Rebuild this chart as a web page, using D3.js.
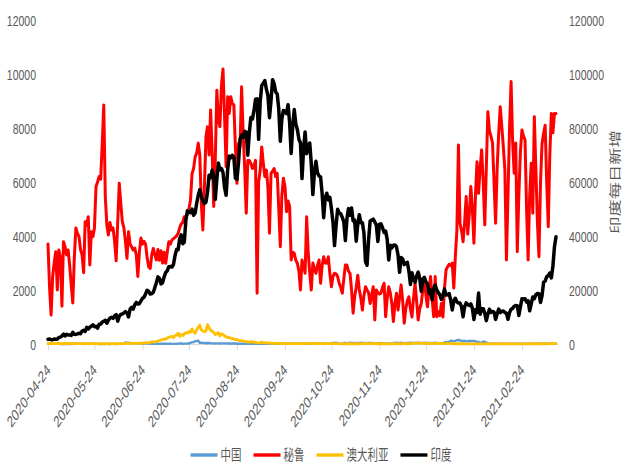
<!DOCTYPE html>
<html>
<head>
<meta charset="utf-8">
<script src="https://cdn.jsdelivr.net/npm/d3@7/dist/d3.min.js"></script>
<style>
  body { margin: 0; background: #fff; }
  svg text { font-family: "Liberation Sans", Arial, sans-serif; fill: #595959; }
</style>
</head>
<body>
<div id="chart"></div>
<script>
const width = 623;
const height = 466;
const stretch = 1.44; // the picture is drawn taller than wide, text looks stretched

const startDate = "2020-04-24";
const endDate = "2021-03-18";
const tickLabels = ["2020-04-24", "2020-05-24", "2020-06-24", "2020-07-24", "2020-08-24", "2020-09-24",
  "2020-10-24", "2020-11-24", "2020-12-24", "2021-01-24", "2021-02-24"];
const leftTicks = [0, 2000, 4000, 6000, 8000, 10000, 12000];
const rightTicks = [0, 20000, 40000, 60000, 80000, 100000, 120000];
const seriesNames = ["中国", "秘鲁", "澳大利亚", "印度"];
const seriesColors = ["#5b9bd5", "#ff0000", "#ffc000", "#000000"];
const rightTitle = "印度每日新增";

// daily new cases, one line per month (Apr 24 .. Mar 18)
const china = [].concat(
  [10, 12, 11, 5, 6, 22, 4],
  [12, 2, 3, 1, 2, 2, 4, 1, 14, 1, 17, 7, 15, 4, 7, 10, 7, 6, 5, 2, 4, 3, 3, 11, 7, 5, 1, 2, 4, 2, 5],
  [16, 5, 1, 5, 8, 5, 4, 3, 3, 3, 1, 11, 57, 49, 40, 44, 28, 32, 32, 26, 22, 18, 12, 19, 11, 17, 21, 12, 19, 3],
  [4, 5, 3, 7, 5, 8, 8, 7, 8, 8, 7, 8, 3, 6, 6, 11, 13, 19, 22, 11, 14, 15, 22, 21, 46, 61, 68, 101, 105, 127, 45],
  [49, 43, 36, 27, 38, 37, 32, 23, 19, 22, 25, 23, 19, 23, 22, 22, 22, 18, 22, 14, 21, 16, 20, 11, 15, 9, 14, 9, 12, 6, 10],
  [12, 9, 10, 10, 10, 10, 10, 10, 10, 10, 8, 8, 10, 10, 10, 15, 15, 25, 15, 20, 20, 15, 10, 10, 10, 10, 10, 10, 10, 5],
  [15, 10, 10, 10, 20, 10, 5, 10, 10, 15, 15, 20, 15, 20, 15, 20, 15, 15, 20, 15, 20, 20, 25, 20, 40, 35, 45, 30, 30, 25, 25],
  [35, 40, 30, 35, 45, 40, 35, 40, 30, 35, 40, 45, 35, 40, 30, 35, 40, 35, 30, 35, 30, 25, 30, 35, 25, 30, 20, 25, 30, 25],
  [25, 30, 35, 40, 45, 35, 40, 45, 35, 30, 40, 35, 40, 45, 35, 40, 35, 40, 45, 40, 35, 40, 45, 40, 35, 40, 35, 30, 40, 45, 40],
  [30, 30, 30, 30, 60, 70, 70, 80, 120, 110, 100, 120, 140, 150, 140, 110, 110, 120, 100, 100, 120, 110, 110, 110, 100, 80, 75, 50, 55, 90, 80],
  [50, 30, 20, 15, 15, 10, 10, 10, 10, 10, 15, 10, 10, 10, 10, 10, 10, 10, 10, 10, 10, 10, 10, 10, 10, 10, 10, 10],
  [10, 10, 10, 10, 10, 10, 10, 10, 10, 10, 10, 10, 10, 10, 10, 10, 10, 10]
);

const peru = [].concat(
  [3700, 2100, 1070, 2500, 3000, 3420, 2000],
  [3480, 3200, 1400, 3790, 3600, 3300, 3480, 2900, 2200, 1520, 3200, 4300, 4100, 3975, 3500, 3300, 2640, 4530, 4400, 4715, 2925, 4160, 3975, 4300, 5830, 6000, 6200, 6100, 7400, 8850, 5460],
  [4400, 4040, 4500, 4220, 4300, 3800, 3080, 4500, 5950, 5200, 4530, 4300, 3800, 3170, 4160, 3700, 3600, 3480, 3550, 3300, 2500, 3400, 3925, 3700, 3800, 3700, 3200, 2860, 2800, 3300],
  [3540, 3300, 3110, 3500, 3100, 3450, 3000, 3400, 2990, 3400, 3790, 3700, 3850, 3900, 3950, 4000, 4100, 4300, 4450, 4500, 4715, 4700, 4800, 5000, 5330, 6300, 6500, 6930, 7070, 7440, 7000],
  [5200, 4220, 5830, 7680, 8050, 7000, 8670, 7070, 5090, 6800, 9400, 8300, 8050, 9590, 10185, 8420, 6570, 9160, 8540, 9160, 8900, 8860, 7300, 5950, 7430, 7300, 9530, 7800, 6500, 4840, 6800],
  [6800, 6690, 6500, 6600, 6800, 1880, 6000, 6440, 7300, 6700, 6200, 6440, 5800, 4100, 6320, 6400, 6500, 6200, 6320, 5000, 3600, 5500, 6140, 5830, 4900, 5300, 5100, 3110, 3400, 3360],
  [3100, 2990, 2700, 2000, 3110, 2900, 2620, 4715, 3400, 2620, 2000, 3000, 2800, 2620, 2900, 3110, 2250, 2900, 3230, 3000, 2990, 3230, 2600, 2120, 2500, 2620, 2600, 2500, 2250, 2100, 1880],
  [2400, 2925, 2925, 2700, 2620, 2000, 1140, 1750, 2100, 2550, 2000, 1700, 1260, 1800, 2120, 2000, 1900, 1500, 1800, 2120, 890, 2000, 1900, 1850, 1880, 2100, 2250, 1010, 1700, 2120],
  [1900, 1500, 830, 1500, 1880, 1260, 1700, 2190, 1600, 770, 1300, 1600, 1750, 1300, 1000, 1700, 2250, 1600, 890, 1300, 1500, 2000, 2370, 1800, 1380, 2000, 2500, 1700, 1010, 2500, 1010],
  [1200, 1050, 1500, 1000, 2060, 2740, 2860, 2950, 2900, 3000, 2070, 3230, 4200, 7370, 4470, 4200, 3790, 4500, 5460, 4070, 4800, 5830, 5000, 3730, 5500, 6750, 5580, 6500, 7190, 6000, 4410],
  [6500, 8600, 7900, 7700, 7450, 6000, 4470, 6500, 7800, 8790, 8050, 7300, 6440, 3110, 5500, 8000, 9720, 7500, 6320, 7440, 3420, 5500, 7100, 7930, 7700, 7560, 5000, 3110],
  [5500, 6690, 4840, 8420, 6500, 4500, 3230, 6000, 7430, 7800, 8100, 6000, 4340, 7000, 8540, 7820, 8540, 8540]
);

const australia = [].concat(
  [15, 20, 12, 10, 15, 20, 18],
  [15, 10, 10, 12, 18, 20, 15, 25, 20, 15, 10, 12, 15, 12, 18, 10, 8, 10, 20, 15, 20, 12, 10, 12, 15, 10, 8, 12, 15, 10, 12],
  [10, 12, 8, 15, 10, 12, 8, 10, 12, 15, 10, 15, 20, 18, 20, 25, 20, 20, 25, 30, 25, 20, 30, 40, 35, 50, 45, 50, 60, 75],
  [80, 70, 95, 110, 130, 150, 160, 190, 180, 220, 250, 270, 280, 230, 310, 330, 400, 280, 350, 310, 380, 420, 400, 460, 430, 560, 450, 400, 530, 620, 700],
  [520, 480, 450, 480, 720, 600, 500, 480, 420, 350, 380, 420, 300, 380, 350, 300, 260, 250, 240, 220, 200, 180, 160, 170, 140, 120, 130, 110, 100, 90, 80],
  [70, 80, 90, 60, 60, 50, 45, 40, 70, 50, 45, 50, 40, 35, 30, 25, 30, 25, 20, 20, 15, 15, 20, 15, 15, 10, 10, 15, 20, 15],
  [15, 20, 15, 10, 10, 15, 15, 20, 20, 15, 20, 10, 15, 10, 15, 20, 15, 10, 10, 12, 15, 20, 15, 10, 15, 12, 10, 15, 12, 10, 10],
  [10, 8, 10, 12, 10, 12, 10, 8, 10, 12, 10, 10, 12, 15, 10, 20, 15, 15, 12, 20, 15, 10, 12, 10, 10, 12, 10, 8, 10, 12],
  [10, 12, 10, 15, 10, 8, 10, 12, 10, 15, 10, 12, 10, 12, 15, 20, 30, 35, 40, 30, 25, 20, 30, 20, 15, 15, 20, 15, 20, 25, 20],
  [25, 30, 20, 15, 10, 15, 20, 20, 15, 12, 10, 8, 10, 12, 10, 8, 10, 5, 8, 10, 8, 5, 8, 10, 5, 8, 5, 10, 8, 5, 8],
  [8, 10, 5, 8, 10, 12, 10, 8, 10, 12, 8, 10, 12, 10, 8, 5, 8, 5, 8, 5, 10, 8, 5, 8, 10, 8, 10, 8],
  [8, 10, 12, 8, 10, 12, 10, 8, 10, 12, 10, 8, 10, 15, 12, 10, 12, 15]
);

const india = [].concat(
  [1752, 1835, 1607, 1561, 1873, 1738, 1801],
  [2396, 2564, 2952, 3656, 2971, 3602, 3344, 3339, 3175, 4311, 3592, 3562, 3726, 3991, 3808, 4794, 5050, 4628, 6147, 5553, 6198, 6629, 7113, 6414, 6535, 5843, 7293, 7300, 8105, 8380, 8789],
  [7723, 8821, 9633, 9889, 9471, 10438, 10864, 8442, 10218, 10956, 11121, 11458, 12023, 11502, 10032, 12881, 13586, 12881, 14516, 15413, 14821, 14933, 15968, 16922, 17296, 18552, 19906, 19459, 18522, 18653],
  [19148, 20903, 22771, 24850, 24248, 22252, 22752, 24879, 26506, 27114, 28637, 28701, 28498, 29429, 32695, 34956, 34884, 38902, 40425, 37148, 37724, 45720, 49310, 48916, 48661, 49931, 47704, 48513, 52123, 55079, 57118],
  [54735, 52972, 52050, 52509, 56282, 62538, 61537, 64399, 62064, 53601, 60963, 66999, 64553, 65002, 63490, 57981, 55079, 64531, 69652, 68898, 69878, 69239, 61408, 60975, 67151, 75760, 77266, 76472, 78761, 78512, 69921],
  [78357, 83883, 83341, 86432, 90632, 90802, 75809, 89706, 95735, 96551, 97570, 94372, 92071, 83809, 90123, 97894, 96424, 93337, 92605, 86961, 75083, 83347, 86508, 86052, 85362, 88600, 82170, 70589, 80472, 86821],
  [81484, 79476, 75829, 74442, 61267, 72049, 78524, 70496, 73272, 74383, 66732, 55342, 63509, 67708, 63371, 62212, 61871, 55722, 46790, 54044, 55839, 53370, 54366, 50129, 45148, 36469, 43893, 49881, 48648, 48268, 46963],
  [45231, 38310, 46253, 50209, 47638, 50357, 45674, 45903, 38073, 44281, 47905, 44879, 44878, 41100, 30548, 29163, 38617, 45576, 45882, 46232, 45209, 44059, 37975, 44376, 44489, 43082, 41322, 41810, 38772, 31118],
  [36604, 35551, 36595, 36652, 36011, 32981, 26567, 32080, 31522, 29398, 30006, 30254, 27071, 22065, 26382, 24010, 22890, 25153, 26624, 24337, 19556, 23950, 24712, 23067, 22273, 18732, 20021, 16432, 20549, 21822, 20035],
  [19078, 18177, 16505, 18088, 20346, 18139, 18222, 18645, 16311, 12584, 15968, 16946, 15590, 15158, 15144, 13788, 10064, 13823, 15223, 14545, 14256, 14849, 13203, 9102, 12689, 11666, 18855, 11039, 13052, 13083, 11427],
  [8635, 11039, 12899, 11713, 12059, 11831, 9110, 11067, 12923, 11610, 12143, 12194, 11649, 11427, 9121, 11610, 12881, 13193, 13993, 14264, 14199, 10584, 13742, 16738, 16577, 16752, 15510, 16000],
  [12300, 14900, 17400, 16800, 18300, 18700, 18600, 15400, 17900, 22900, 23300, 24900, 25300, 26300, 24500, 28900, 35900, 39700]
);

const parseDate = d3.timeParse("%Y-%m-%d");
const formatDate = d3.timeFormat("%Y-%m-%d");
const dates = d3.timeDay.range(parseDate(startDate), d3.timeDay.offset(parseDate(endDate), 1));

const margin = {top: 20, right: 65, bottom: 122, left: 48};
const plotBottom = height - margin.bottom;

const svg = d3.select("#chart")
  .append("svg")
  .attr("width", width)
  .attr("height", height);

svg.append("rect").attr("width", width).attr("height", height).attr("fill", "#fff");

const x = d3.scaleTime()
  .domain([dates[0], dates[dates.length - 1]])
  .range([margin.left, 556]);

const yLeft = d3.scaleLinear()
  .domain([0, 12000])
  .range([plotBottom, margin.top]);

const yRight = d3.scaleLinear()
  .domain([0, 120000])
  .range([plotBottom, margin.top]);

// X axis
const xAxis = svg.append("g")
  .attr("transform", "translate(0," + plotBottom + ")")
  .call(d3.axisBottom(x)
    .tickValues(tickLabels.map(parseDate))
    .tickFormat(formatDate)
    .tickSizeOuter(0)
    .tickSize(6));
xAxis.select(".domain").attr("stroke", "#d9d9d9").attr("d", "M" + margin.left + ",0.5H558");
xAxis.selectAll(".tick line").attr("stroke", "#d9d9d9");
xAxis.selectAll(".tick text")
  .attr("x", 0).attr("y", 0).attr("dy", "0.35em")
  .attr("transform", "translate(0,23) scale(1," + stretch + ") rotate(-45)")
  .style("text-anchor", "end")
  .style("font-size", "11px");

// left axis
const leftAxis = svg.append("g")
  .attr("transform", "translate(" + margin.left + ",0)")
  .call(d3.axisLeft(yLeft).tickValues(leftTicks).tickFormat(d3.format("d")).tickSize(0).tickPadding(12));
leftAxis.select(".domain").remove();
leftAxis.selectAll(".tick text")
  .attr("dy", "0.36em")
  .attr("transform", "scale(1," + stretch + ")")
  .style("font-size", "10.5px");

// right axis
const rightAxis = svg.append("g")
  .attr("transform", "translate(558,0)")
  .call(d3.axisRight(yRight).tickValues(rightTicks).tickFormat(d3.format("d")).tickSize(0).tickPadding(11));
rightAxis.select(".domain").remove();
rightAxis.selectAll(".tick text")
  .attr("dy", "0.36em")
  .attr("transform", "scale(1," + stretch + ")")
  .style("font-size", "10.5px");

// right axis title, kept just inside the right edge
svg.append("text")
  .attr("transform", "translate(619.5," + ((margin.top + plotBottom) / 2) + ") scale(1," + stretch + ") rotate(-90)")
  .attr("text-anchor", "middle")
  .style("font-family", "'Noto Sans CJK SC', sans-serif")
  .style("font-size", "12px")
  .text(rightTitle);

// lines
const series = [china, peru, australia, india];
const scales = [yLeft, yLeft, yLeft, yRight];
const widths = [2.4, 3, 2.8, 3.5];

series.forEach(function(values, k) {
  const y = scales[k];
  const line = d3.line()
    .x(function(d, i) { return x(dates[i]); })
    .y(function(d) { return y(d); });
  svg.append("path")
    .datum(values.slice(0, dates.length))
    .attr("fill", "none")
    .attr("stroke", seriesColors[k])
    .attr("stroke-width", widths[k])
    .attr("stroke-linejoin", "round")
    .attr("stroke-linecap", "round")
    .attr("d", line);
});

// legend
const legend = svg.append("g").attr("transform", "translate(0,455)");
let lx = 0;
const items = [];
seriesNames.forEach(function(name, k) {
  const g = legend.append("g");
  g.append("line")
    .attr("x1", 0).attr("x2", 27)
    .attr("stroke", seriesColors[k])
    .attr("stroke-width", 3.4);
  const t = g.append("text")
    .attr("x", 0).attr("y", 0)
    .attr("dy", "0.36em")
    .attr("transform", "translate(30,0) scale(1," + stretch + ")")
    .style("font-family", "'Noto Sans CJK SC', sans-serif")
    .style("font-size", "10.5px")
    .text(name);
  const w = t.node().getComputedTextLength();
  items.push({g: g, x: lx});
  lx += 30 + w + 12;
});
const legendWidth = lx - 12;
const legendStart = 321 - legendWidth / 2;
items.forEach(function(it) {
  it.g.attr("transform", "translate(" + (legendStart + it.x) + ",0)");
});
</script>
</body>
</html>
